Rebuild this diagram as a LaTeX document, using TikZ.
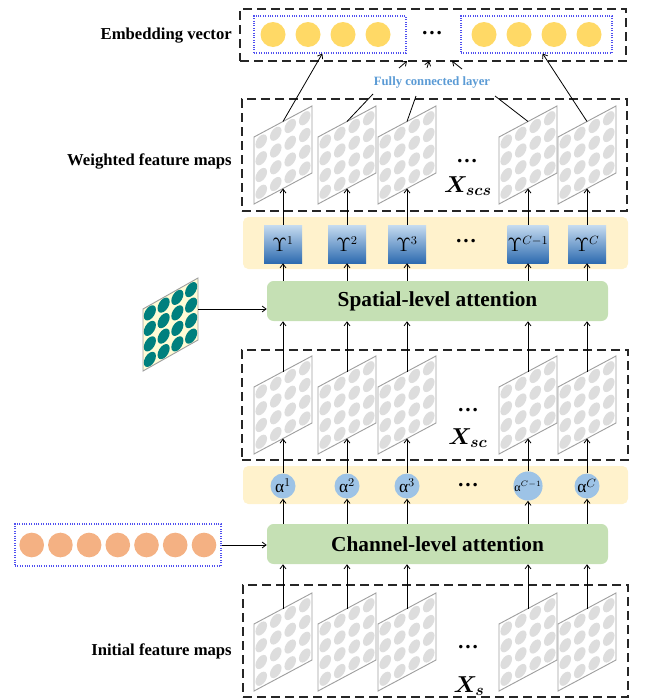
\documentclass[tikz,border=0pt]{standalone}
\usepackage{fontspec}
\setmainfont{Liberation Serif}
\usepackage{bm}
\usetikzlibrary{arrows.meta,calc,fit}
\definecolor{embyel}{HTML}{FFD966}
\definecolor{orng}{HTML}{F4B183}
\definecolor{tealdot}{HTML}{00807E}
\definecolor{tealfill}{HTML}{FFFCD6}
\definecolor{dotgray}{HTML}{DDDDDD}
\definecolor{mapedge}{HTML}{A0A0A0}
\definecolor{cream}{HTML}{FFF2CC}
\definecolor{attgreen}{HTML}{C5E0B4}
\definecolor{alphablue}{HTML}{9DC3E6}
\definecolor{fcblue}{HTML}{5B9BD5}
\definecolor{vecblue}{HTML}{5050F0}
\definecolor{upstop}{HTML}{C6DCF0}
\definecolor{upsbot}{HTML}{2E6BB0}
\tikzset{
  pics/fmap/.style={code={
    \begin{scope}[x={(43.5pt,23.25pt)},y={(0pt,50.25pt)}]
      \draw[draw=mapedge,fill=white,line width=0.7pt] (0,0)--(1,0)--(1,1)--(0,1)--cycle;
      \foreach \pu in {0.125,0.375,0.625,0.875}{
        \foreach \pv in {0.125,0.375,0.625,0.875}{
          \fill[dotgray] (\pu,\pv) circle [x radius=0.1,y radius=0.095];}}
      \coordinate (-b) at (0.5,0);
      \coordinate (-t) at (0.5,1);
    \end{scope}}},
  pics/tmap/.style={code={
    \begin{scope}[x={(41.25pt,23.25pt)},y={(0pt,46.5pt)}]
      \draw[draw=mapedge,fill=tealfill,line width=0.7pt] (0,0)--(1,0)--(1,1)--(0,1)--cycle;
      \foreach \pu in {0.125,0.375,0.625,0.875}{
        \foreach \pv in {0.125,0.375,0.625,0.875}{
          \fill[tealdot] (\pu,\pv) circle [x radius=0.11,y radius=0.11];}}
      \coordinate (-r) at (1,0.5);
    \end{scope}}}
}
\begin{document}
\begin{tikzpicture}[x=0.75pt,y=-0.75pt,
  dbox/.style={draw=black!85,line width=0.9pt,dash pattern=on 6.5pt off 4pt,inner sep=0pt},
  vecbox/.style={draw=vecblue,densely dotted,line width=0.8pt,inner sep=0pt},
  lab/.style={font=\fontsize{12.5}{15}\selectfont\bfseries,inner sep=0pt},
  att/.style={fill=attgreen,rounded corners=5pt,font=\fontsize{16}{19}\selectfont\bfseries,inner sep=0pt,minimum width=255.75pt,minimum height=30pt},
  fc/.style={text=fcblue,font=\fontsize{9.5}{11}\selectfont\bfseries,inner sep=1pt},
  dots/.style={font=\fontsize{16}{18}\selectfont\bfseries,inner sep=0pt},
  xlab/.style={font=\fontsize{17}{19}\selectfont,inner sep=0pt},
  ycirc/.style={circle,fill=embyel,minimum size=18.75pt,inner sep=0pt},
  ocirc/.style={circle,fill=orng,minimum size=18.5pt,inner sep=0pt},
  acirc/.style={circle,fill=alphablue,minimum size=18.75pt,inner sep=0pt,font=\fontsize{13}{15}\selectfont},
  ubox/.style={rectangle,top color=upstop,bottom color=upsbot,minimum size=28.5pt,inner sep=0pt,font=\fontsize{13.5}{15}\selectfont},
  band/.style={fill=cream,rounded corners=4pt,inner sep=0pt},
  arr/.style={line width=0.6pt,-{Straight Barb[length=3pt,width=4.5pt]}},
  ln/.style={line width=0.6pt}]
\useasboundingbox (0,0) rectangle (644,700);

% ---------- Embedding vector ----------
\node[dbox,fit={(240,9)(626,61)}] (emb) {};
\node[vecbox,fit={(254,16)(406,53)}] (lvec) {};
\node[vecbox,fit={(461,16)(612,53)}] (rvec) {};
\foreach \x [count=\i] in {273,308,343,378} \node[ycirc] (ea\i) at (\x,34.5) {};
\foreach \x [count=\i] in {484,519,554,589} \node[ycirc] (eb\i) at (\x,34.5) {};
\node[dots] (edots) at (432,33) {…};
\node[lab,anchor=east] (lemb) at (232,36) {Embedding vector};

% ---------- Fully connected layer ----------
\node[fc] (fcl) at (432,82) {Fully connected layer};
\coordinate (fa1) at (399,68); \coordinate (ft1) at (407,61);
\coordinate (fa2) at (427,68); \coordinate (ft2) at (429,61);
\coordinate (fa3) at (462,69); \coordinate (ft3) at (452,61);
\foreach \i in {1,2,3} \draw[arr] (fa\i) -- (ft\i);
\coordinate (fb1) at (373,94);
\coordinate (fb2) at (416,96);
\coordinate (fb3) at (495,96);

% ---------- Weighted feature maps ----------
\node[dbox,fit={(242,99)(627,211)}] (wbox) {};
\foreach \x [count=\i] in {254,318,378,499,558} \pic (w\i) at (\x,204) {fmap};
\node[dots] (wdots) at (467,161) {…};
\node[xlab] (xscs) at (468,186) {$\bm{X_{scs}}$};
\node[lab,anchor=east] (lw) at (232,161) {Weighted feature maps};
\draw[ln] (fb1) -- (w2-t);
\draw[ln] (fb2) -- (w3-t);
\draw[ln] (fb3) -- (w4-t);
\draw[arr] (w1-t) -- ($(lvec.south west)!0.45!(lvec.south east)$);
\draw[arr] (w5-t) -- ($(rvec.south west)!0.54!(rvec.south east)$);

% ---------- Upsilon band ----------
\node[band,fit={(243,217)(628,269)}] (yband) {};
\foreach \x/\t [count=\i] in {283/1,347/2,407/3,528/{C-1},587/C}
  \node[ubox] (u\i) at (\x,244) {$\Upsilon^{\t}$};
\node[dots] (udots) at (466,241) {…};

% ---------- Spatial-level attention ----------
\node[att] (spat) at (437.5,301) {Spatial-level attention};
\foreach \i in {1,...,5}{
  \draw[arr] (u\i.north) -- (w\i-b);
  \draw[arr] (spat.north -| u\i) -- (u\i.south);
}
\pic (tm) at (143,371) {tmap};
\draw[arr] (tm-r) -- (tm-r -| spat.west);

% ---------- X_sc ----------
\node[dbox,fit={(242,350)(628,460)}] (scbox) {};
\foreach \x [count=\i] in {254,318,378,499,558} \pic (c\i) at (\x,454) {fmap};
\node[dots] (cdots) at (468,410) {…};
\node[xlab] (xsc) at (468,438) {$\bm{X_{sc}}$};
\foreach \i in {1,...,5} \draw[arr] (c\i-t) -- (c\i-t |- spat.south);

% ---------- alpha band ----------
\node[band,fit={(243,466)(628,504)}] (aband) {};
\node[acirc] (a1) at (283,486) {α$^{1}$};
\node[acirc] (a2) at (347,486) {α$^{2}$};
\node[acirc] (a3) at (407,486) {α$^{3}$};
\node[acirc,font=\fontsize{9}{10}\selectfont] (a4) at (528,486) {α$^{C-1}$};
\node[acirc] (a5) at (587,486) {α$^{C}$};
\node[dots] (adots) at (468,485) {…};
\foreach \i in {1,...,5} \draw[arr] (a\i.north) -- (c\i-b);

% ---------- Channel-level attention ----------
\node[att] (chan) at (437.5,544) {Channel-level attention};
\foreach \i in {1,...,5} \draw[arr] (chan.north -| a\i) -- (a\i.south);
\node[vecbox,fit={(15,524)(221,566)}] (ovec) {};
\foreach \x [count=\i] in {31.7,60.4,89.1,117.8,146.5,175.2,204} \node[ocirc] (o\i) at (\x,545) {};
\draw[arr] (ovec.east) -- (ovec.east -| chan.west);

% ---------- Initial feature maps ----------
\node[dbox,fit={(243,585)(628,697)}] (sbox) {};
\foreach \x [count=\i] in {254,318,378,499,558} \pic (s\i) at (\x,691) {fmap};
\node[dots] (sdots) at (468,647) {…};
\node[xlab] (xs) at (469,686) {$\bm{X_{s}}$};
\node[lab,anchor=east] (li) at (232,651) {Initial feature maps};
\foreach \i in {1,...,5} \draw[arr] (s\i-t) -- (s\i-t |- chan.south);
\end{tikzpicture}
\end{document}
